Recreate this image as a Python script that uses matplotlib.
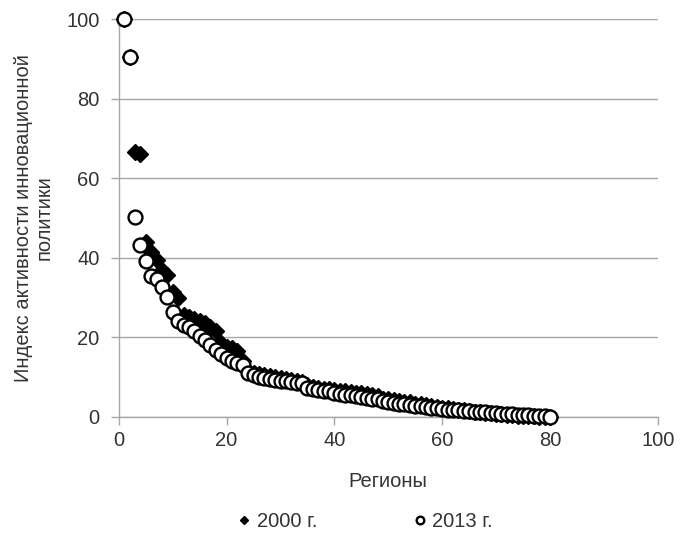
import matplotlib.pyplot as plt

plt.rcParams['font.family'] = ['Liberation Sans', 'DejaVu Sans']

# Regions ranked, index values
regions = list(range(1, 81))
idx_2000 = [100, 90.5, 66.5, 66.0, 44.0, 41.5, 39.5, 37.0, 35.7, 31.5,
            30.0, 25.5, 25.0, 24.5, 24.0, 23.5, 22.5, 21.5, 18.5, 17.5,
            17.2, 16.5, 14.0, 11.5, 11.0, 10.8, 10.6, 10.2, 10.0, 9.8,
            9.5, 9.3, 9.0, 8.8, 8.0, 7.6, 7.3, 7.1, 7.0, 6.8,
            6.6, 6.4, 6.3, 6.1, 6.0, 5.8, 5.6, 5.2, 4.6, 4.4,
            4.2, 4.0, 3.8, 3.6, 3.3, 3.1, 2.9, 2.7, 2.5, 2.3,
            2.1, 2.0, 1.8, 1.7, 1.5, 1.3, 1.1, 1.0, 0.9, 0.8,
            0.6, 0.5, 0.4, 0.3, 0.2, 0.1, 0.1, 0.0, 0.0, 0.0]
idx_2013 = [100, 90.5, 50.3, 43.3, 39.3, 35.4, 34.6, 32.7, 30.2, 26.4,
            24.0, 23.2, 22.5, 21.6, 20.4, 19.2, 18.0, 16.8, 15.8, 14.8,
            14.0, 13.6, 13.0, 11.0, 10.4, 10.0, 9.8, 9.6, 9.3, 9.1,
            8.9, 8.7, 8.6, 8.4, 7.3, 7.0, 6.8, 6.6, 6.4, 6.1,
            5.8, 5.6, 5.4, 5.2, 5.0, 4.8, 4.6, 4.4, 3.9, 3.6,
            3.5, 3.3, 3.1, 2.9, 2.8, 2.6, 2.4, 2.3, 2.1, 1.9,
            1.8, 1.7, 1.6, 1.5, 1.4, 1.3, 1.2, 1.1, 1.0, 0.9,
            0.8, 0.7, 0.6, 0.55, 0.5, 0.4, 0.3, 0.2, 0.1, 0.0]

txt = '#333333'
grid = '#a6a6a6'
fs = 14.5

fig = plt.figure(figsize=(6.83, 5.33), dpi=100)
ax = fig.add_axes([0.174, 0.218, 0.789, 0.746])

ax.plot(regions, idx_2000, linestyle='none', marker='D', markersize=7.8,
        color='black', label='2000 г.', zorder=3, clip_on=False)
ax.plot(regions, idx_2013, linestyle='none', marker='o', markersize=10,
        markerfacecolor='white', markeredgecolor='black', markeredgewidth=1.7,
        label='2013 г.', zorder=4, clip_on=False)

ax.set_xlim(0, 100)
ax.set_ylim(0, 100)
ax.set_xticks(range(0, 101, 20))
ax.set_yticks(range(0, 101, 20))
ax.yaxis.grid(True, color=grid, linewidth=1)
ax.set_axisbelow(True)
for s in ['top', 'right']:
    ax.spines[s].set_visible(False)
for s in ['left', 'bottom']:
    ax.spines[s].set_color(grid)
    ax.spines[s].set_linewidth(1)
ax.tick_params(colors=grid, labelcolor=txt, labelsize=fs, length=6, width=1)
ax.tick_params(axis='y', pad=8)
ax.tick_params(axis='x', pad=4)

ax.set_xlabel('Регионы', fontsize=fs, color=txt, labelpad=16)
ax.set_ylabel('Индекс активности инновационной\nполитики', fontsize=fs,
              color=txt, labelpad=9, linespacing=1.1)

fig.legend(loc='lower center', ncol=2, frameon=False, fontsize=fs,
           bbox_to_anchor=(0.535, -0.03), handlelength=0.6, handletextpad=0.3,
           columnspacing=4.8, markerscale=0.55, labelcolor=txt)

fig.savefig('out.png', dpi=100)
